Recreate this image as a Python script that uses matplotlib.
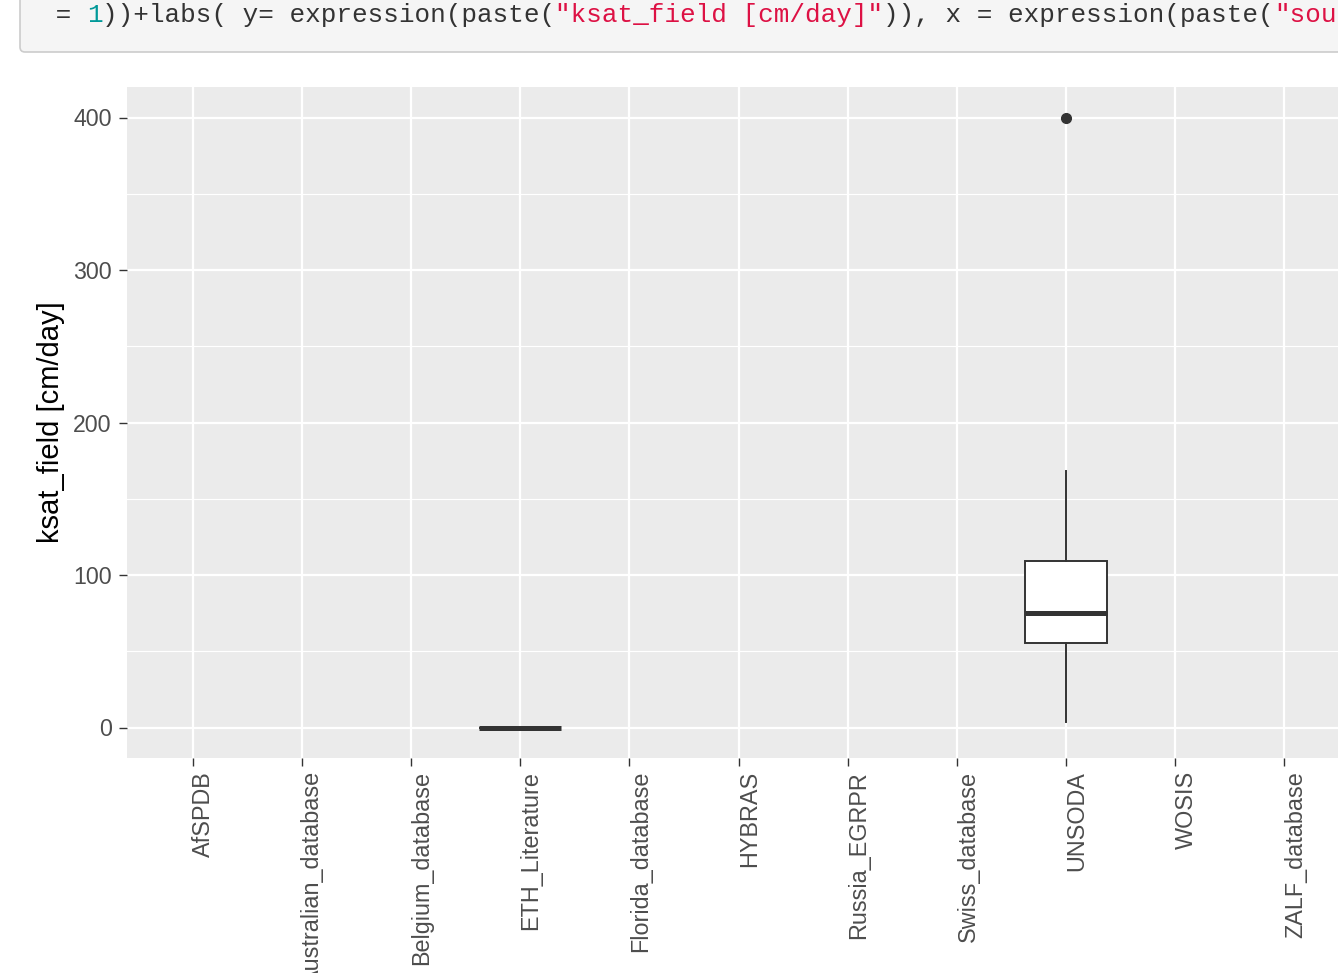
import matplotlib
matplotlib.use("Agg")
import matplotlib.pyplot as plt
import matplotlib.transforms as mtransforms
from matplotlib.patches import FancyBboxPatch

# --- data ---
sources = ["AfSPDB", "Australian_database", "Belgium_database", "ETH_Literature",
           "Florida_database", "HYBRAS", "Russia_EGRPR", "Swiss_database",
           "UNSODA", "WOSIS", "ZALF_database"]
box_sources = ["ETH_Literature", "UNSODA"]
box_whislo = [0.0, 3.9]
box_q1 = [0.0, 55.7]
box_med = [0.0, 74.8]
box_q3 = [0.0, 108.9]
box_whishi = [0.0, 167.9]
box_fliers = [[], [400.0]]
y_ticks = [0, 100, 200, 300, 400]

plt.rcParams['font.family'] = ['Liberation Sans', 'DejaVu Sans']

W, H = 1338, 973
fig = plt.figure(figsize=(W / 100, H / 100), dpi=100)
fig.patch.set_facecolor("white")

# code chunk above the plot (cropped screenshot)
code_box = FancyBboxPatch((0.20, (H - 52) / 100), 14.0, 2.0,
                          boxstyle="round,pad=0,rounding_size=0.05",
                          transform=fig.dpi_scale_trans, facecolor="#f5f5f5",
                          edgecolor="#cccccc", linewidth=1.2)
fig.patches.append(code_box)

code_parts = [(" = ", "#333333"), ("1", "#009999"), ("))+labs( y= expression(paste(", "#333333"),
              ('"ksat_field [cm/day]"', "#dd1144"), (")), x = expression(paste(", "#333333"),
              ('"sou', "#dd1144")]
char_w = 15.62
x0 = 40.0
for txt, col in code_parts:
    fig.text(x0 / W, 1 - 22 / H, txt, color=col, fontsize=18.7,
             family=['Liberation Mono', 'DejaVu Sans Mono'], va="baseline", ha="left")
    x0 += char_w * len(txt)

# panel
left, right, top, bottom = 127, 1350, 87, 758
ax = fig.add_axes([left / W, 1 - bottom / H, (right - left) / W, (bottom - top) / H])
ax.set_facecolor("#EBEBEB")
for s in ax.spines.values():
    s.set_visible(False)

pos = list(range(len(sources)))
ax.set_xlim(-0.6, len(sources) - 1 + 0.6)
ax.set_ylim(-20, 420)

# grid
for y in [50, 150, 250, 350]:
    ax.axhline(y, color="white", lw=0.8, zorder=0)
for y in y_ticks:
    ax.axhline(y, color="white", lw=1.6, zorder=0)
for x in pos:
    ax.axvline(x, color="white", lw=1.6, zorder=0)

stats = []
for i in range(len(box_sources)):
    stats.append(dict(med=box_med[i], q1=box_q1[i], q3=box_q3[i],
                      whislo=box_whislo[i], whishi=box_whishi[i], fliers=box_fliers[i]))
box_pos = [sources.index(s) for s in box_sources]
ax.bxp(stats, positions=box_pos, widths=0.75, patch_artist=True, showcaps=False,
       boxprops=dict(facecolor="white", edgecolor="#333333", linewidth=1.4),
       whiskerprops=dict(color="#333333", linewidth=1.4),
       medianprops=dict(color="#333333", linewidth=3.6, solid_capstyle="butt"),
       flierprops=dict(marker="o", markerfacecolor="#333333", markeredgecolor="#333333",
                       markersize=7),
       manage_ticks=False, zorder=3)

ax.set_yticks(y_ticks)
ax.set_yticklabels([str(v) for v in y_ticks])
ax.set_xticks(pos)
ax.set_xticklabels([])

ax.tick_params(axis="both", colors="#333333", length=6, width=1.0, labelsize=16.7,
               labelcolor="#4D4D4D")
ax.tick_params(axis="y", pad=5)

# x labels: rotated, ends at the tick, shifted right like ggplot's angle=90 text
lab_tr = mtransforms.blended_transform_factory(ax.transData, ax.transAxes) + \
    mtransforms.ScaledTranslation(11 / 100, -13 / 100, fig.dpi_scale_trans)
for p, name in zip(pos, sources):
    ax.text(p, 0, name, transform=lab_tr, rotation=90, ha="center", va="top",
            fontsize=16.8, color="#4D4D4D", clip_on=False)

ax.set_ylabel("ksat_field [cm/day]", fontsize=21, color="black", labelpad=6)

fig.savefig("out.png", dpi=100)
